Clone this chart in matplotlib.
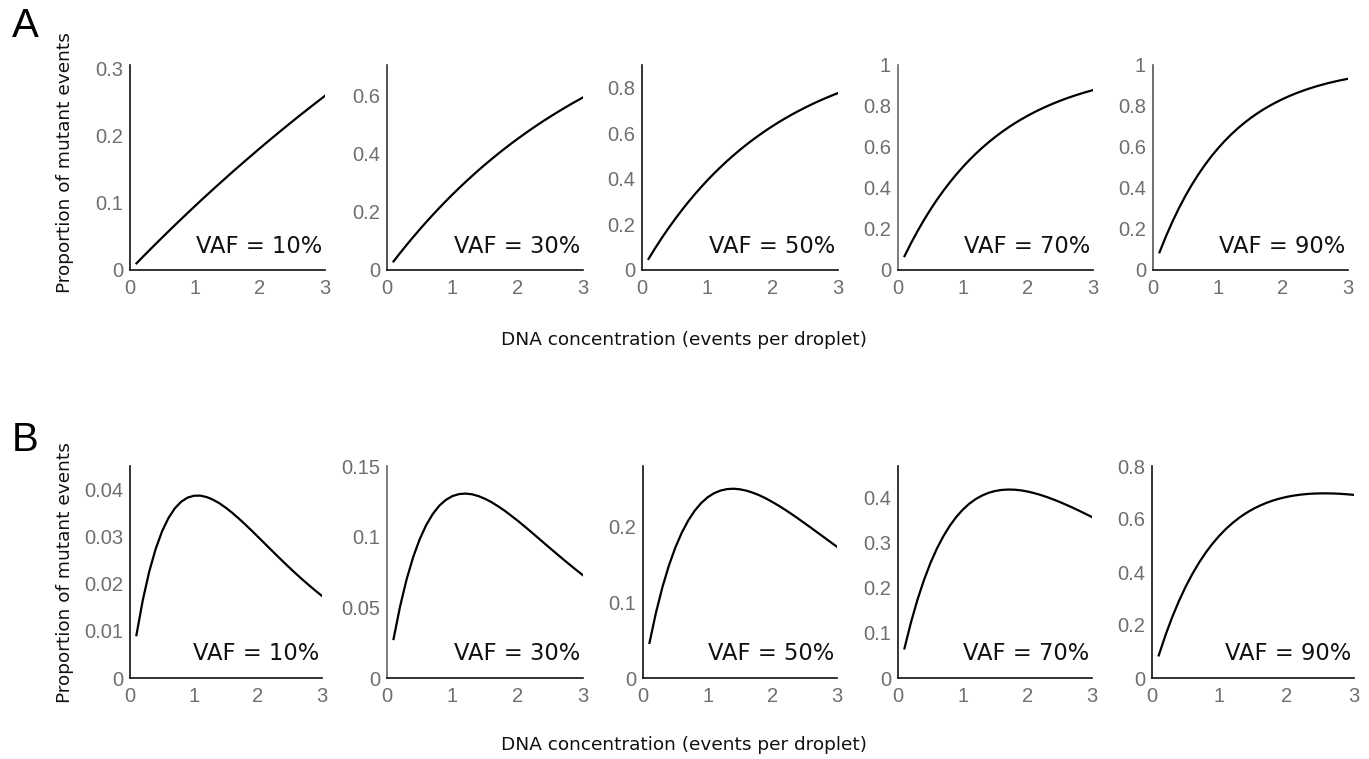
import matplotlib
matplotlib.use("Agg")
import matplotlib.pyplot as plt
from matplotlib.ticker import FuncFormatter

# DNA concentration (events per droplet)
conc = [0.1, 0.2, 0.3, 0.4, 0.5, 0.6, 0.7, 0.8, 0.9, 1.0,
        1.1, 1.2, 1.3, 1.4, 1.5, 1.6, 1.7, 1.8, 1.9, 2.0,
        2.1, 2.2, 2.3, 2.4, 2.5, 2.6, 2.7, 2.8, 2.9, 3.0]

vaf_labels = ["VAF = 10%", "VAF = 30%", "VAF = 50%", "VAF = 70%", "VAF = 90%"]

# panel A: proportion of mutant events
a_vaf10 = [0.00995, 0.0198, 0.02955, 0.03921, 0.04877, 0.05824, 0.06761, 0.07688, 0.08607, 0.09516,
           0.1042, 0.1131, 0.1219, 0.1306, 0.1393, 0.1479, 0.1563, 0.1647, 0.1730, 0.1813,
           0.1894, 0.1975, 0.2055, 0.2134, 0.2212, 0.2290, 0.2366, 0.2442, 0.2517, 0.2592]
a_vaf30 = [0.02955, 0.05824, 0.08607, 0.1131, 0.1393, 0.1647, 0.1894, 0.2134, 0.2366, 0.2592,
           0.2811, 0.3023, 0.3229, 0.3430, 0.3624, 0.3812, 0.3995, 0.4173, 0.4345, 0.4512,
           0.4674, 0.4832, 0.4984, 0.5133, 0.5276, 0.5416, 0.5551, 0.5683, 0.5811, 0.5934]
a_vaf50 = [0.04877, 0.09516, 0.1393, 0.1813, 0.2212, 0.2592, 0.2953, 0.3297, 0.3624, 0.3935,
           0.4231, 0.4512, 0.4780, 0.5034, 0.5276, 0.5507, 0.5726, 0.5934, 0.6133, 0.6321,
           0.6501, 0.6671, 0.6834, 0.6988, 0.7135, 0.7275, 0.7408, 0.7534, 0.7654, 0.7769]
a_vaf70 = [0.06761, 0.1306, 0.1894, 0.2442, 0.2953, 0.3430, 0.3874, 0.4288, 0.4674, 0.5034,
           0.5370, 0.5683, 0.5975, 0.6247, 0.6501, 0.6737, 0.6958, 0.7164, 0.7355, 0.7534,
           0.7701, 0.7856, 0.8001, 0.8136, 0.8262, 0.8380, 0.8489, 0.8591, 0.8687, 0.8775]
a_vaf90 = [0.08607, 0.1647, 0.2366, 0.3023, 0.3624, 0.4173, 0.4674, 0.5133, 0.5551, 0.5934,
           0.6284, 0.6604, 0.6896, 0.7164, 0.7408, 0.7631, 0.7835, 0.8021, 0.8191, 0.8347,
           0.8489, 0.8619, 0.8738, 0.8847, 0.8946, 0.9037, 0.9120, 0.9195, 0.9265, 0.9328]

# panel B: proportion of mutant events
b_vaf10 = [0.00909, 0.01654, 0.02256, 0.02736, 0.03110, 0.03394, 0.03601, 0.03742, 0.03829, 0.03869,
           0.03871, 0.03840, 0.03783, 0.03706, 0.03611, 0.03503, 0.03385, 0.03260, 0.03130, 0.02996,
           0.02862, 0.02727, 0.02593, 0.02461, 0.02331, 0.02205, 0.02083, 0.01965, 0.01851, 0.01742]
b_vaf30 = [0.02755, 0.05063, 0.06977, 0.08546, 0.09816, 0.1082, 0.1160, 0.1219, 0.1260, 0.1287,
           0.1301, 0.1305, 0.1300, 0.1287, 0.1268, 0.1244, 0.1215, 0.1184, 0.1149, 0.1113,
           0.1075, 0.1036, 0.09963, 0.09566, 0.09169, 0.08775, 0.08387, 0.08005, 0.07631, 0.07267]
b_vaf50 = [0.04639, 0.08611, 0.1199, 0.1484, 0.1723, 0.1920, 0.2081, 0.2210, 0.2311, 0.2387,
           0.2441, 0.2476, 0.2495, 0.2500, 0.2492, 0.2474, 0.2447, 0.2413, 0.2372, 0.2325,
           0.2275, 0.2221, 0.2164, 0.2105, 0.2044, 0.1983, 0.1920, 0.1858, 0.1795, 0.1733]
b_vaf70 = [0.06561, 0.1230, 0.1731, 0.2166, 0.2542, 0.2865, 0.3140, 0.3373, 0.3568, 0.3729,
           0.3861, 0.3965, 0.4045, 0.4105, 0.4145, 0.4169, 0.4178, 0.4175, 0.4160, 0.4135,
           0.4101, 0.4060, 0.4013, 0.3960, 0.3903, 0.3841, 0.3777, 0.3709, 0.3639, 0.3568]
b_vaf90 = [0.08521, 0.1615, 0.2296, 0.2905, 0.3447, 0.3930, 0.4358, 0.4738, 0.5074, 0.5370,
           0.5630, 0.5857, 0.6056, 0.6228, 0.6376, 0.6502, 0.6610, 0.6700, 0.6774, 0.6834,
           0.6881, 0.6917, 0.6943, 0.6959, 0.6967, 0.6968, 0.6962, 0.6950, 0.6932, 0.6910]

x_ticks = [0, 1, 2, 3]
a_yticks = [[0, 0.1, 0.2, 0.3], [0, 0.2, 0.4, 0.6], [0, 0.2, 0.4, 0.6, 0.8],
            [0, 0.2, 0.4, 0.6, 0.8, 1], [0, 0.2, 0.4, 0.6, 0.8, 1]]
b_yticks = [[0, 0.01, 0.02, 0.03, 0.04], [0, 0.05, 0.1, 0.15], [0, 0.1, 0.2],
            [0, 0.1, 0.2, 0.3, 0.4], [0, 0.2, 0.4, 0.6, 0.8]]
a_ymax = [0.305, 0.705, 0.9, 1.0, 1.0]
b_ymax = [0.045, 0.15, 0.28, 0.47, 0.8]

W, H = 1369, 759
fig = plt.figure(figsize=(W / 100, H / 100), dpi=100)


def px_axes(x0, x1, ytop, ybot):
    return fig.add_axes([x0 / W, 1 - ybot / H, (x1 - x0) / W, (ybot - ytop) / H])


def style(ax, yticks, ymax, label, yaxis_color):
    ax.set_xlim(0, 3)
    ax.set_ylim(0, ymax)
    ax.set_xticks(x_ticks)
    ax.set_yticks(yticks)
    ax.yaxis.set_major_formatter(FuncFormatter(lambda v, p: "{:g}".format(round(v, 4))))
    ax.tick_params(length=0, labelsize=14.5, labelcolor="#6e6e6e")
    ax.tick_params(axis="x", pad=6.5)
    ax.tick_params(axis="y", pad=5)
    for t in ax.get_xticklabels() + ax.get_yticklabels():
        t.set_fontfamily("Liberation Sans")
    for s in ["top", "right"]:
        ax.spines[s].set_visible(False)
    ax.spines["bottom"].set_color("#111111")
    ax.spines["left"].set_color(yaxis_color)
    ax.spines["bottom"].set_linewidth(1.2)
    ax.spines["left"].set_linewidth(1.2)
    ax.text(0.985, 0.06, label, transform=ax.transAxes, ha="right", va="bottom",
            fontsize=16.3, family="DejaVu Sans", color="#111111")


a_series = [a_vaf10, a_vaf30, a_vaf50, a_vaf70, a_vaf90]
b_series = [b_vaf10, b_vaf30, b_vaf50, b_vaf70, b_vaf90]
a_box = [(130, 325), (387, 583), (642, 838), (898, 1093), (1153, 1348)]
b_box = [(130, 322), (387, 583), (643, 837), (898, 1092), (1152, 1354)]
a_ycol = ["#111111", "#333333", "#111111", "#666666", "#555555"]
b_ycol = ["#111111", "#666666", "#111111", "#111111", "#111111"]

for i in range(5):
    ax = px_axes(a_box[i][0], a_box[i][1], 65, 270)
    ax.plot(conc, a_series[i], color="black", lw=1.6)
    style(ax, a_yticks[i], a_ymax[i], vaf_labels[i], a_ycol[i])

for i in range(5):
    ax = px_axes(b_box[i][0], b_box[i][1], 466, 678)
    ax.plot(conc, b_series[i], color="black", lw=1.6)
    style(ax, b_yticks[i], b_ymax[i], vaf_labels[i], b_ycol[i])

lab_kw = dict(fontsize=13.3, family="DejaVu Sans", color="#111111")
fig.text(684 / W, 1 - 340 / H, "DNA concentration (events per droplet)", ha="center", va="center", **lab_kw)
fig.text(684 / W, 1 - 745 / H, "DNA concentration (events per droplet)", ha="center", va="center", **lab_kw)
fig.text(65 / W, 1 - 163 / H, "Proportion of mutant events", ha="center", va="center", rotation=90, **lab_kw)
fig.text(65 / W, 1 - 573 / H, "Proportion of mutant events", ha="center", va="center", rotation=90, **lab_kw)

fig.text(25 / W, 1 - 26 / H, "A", ha="center", va="center", fontsize=29, family="Liberation Sans")
fig.text(25 / W, 1 - 440 / H, "B", ha="center", va="center", fontsize=29, family="Liberation Sans")

fig.savefig("out.png", dpi=100, facecolor="white")
